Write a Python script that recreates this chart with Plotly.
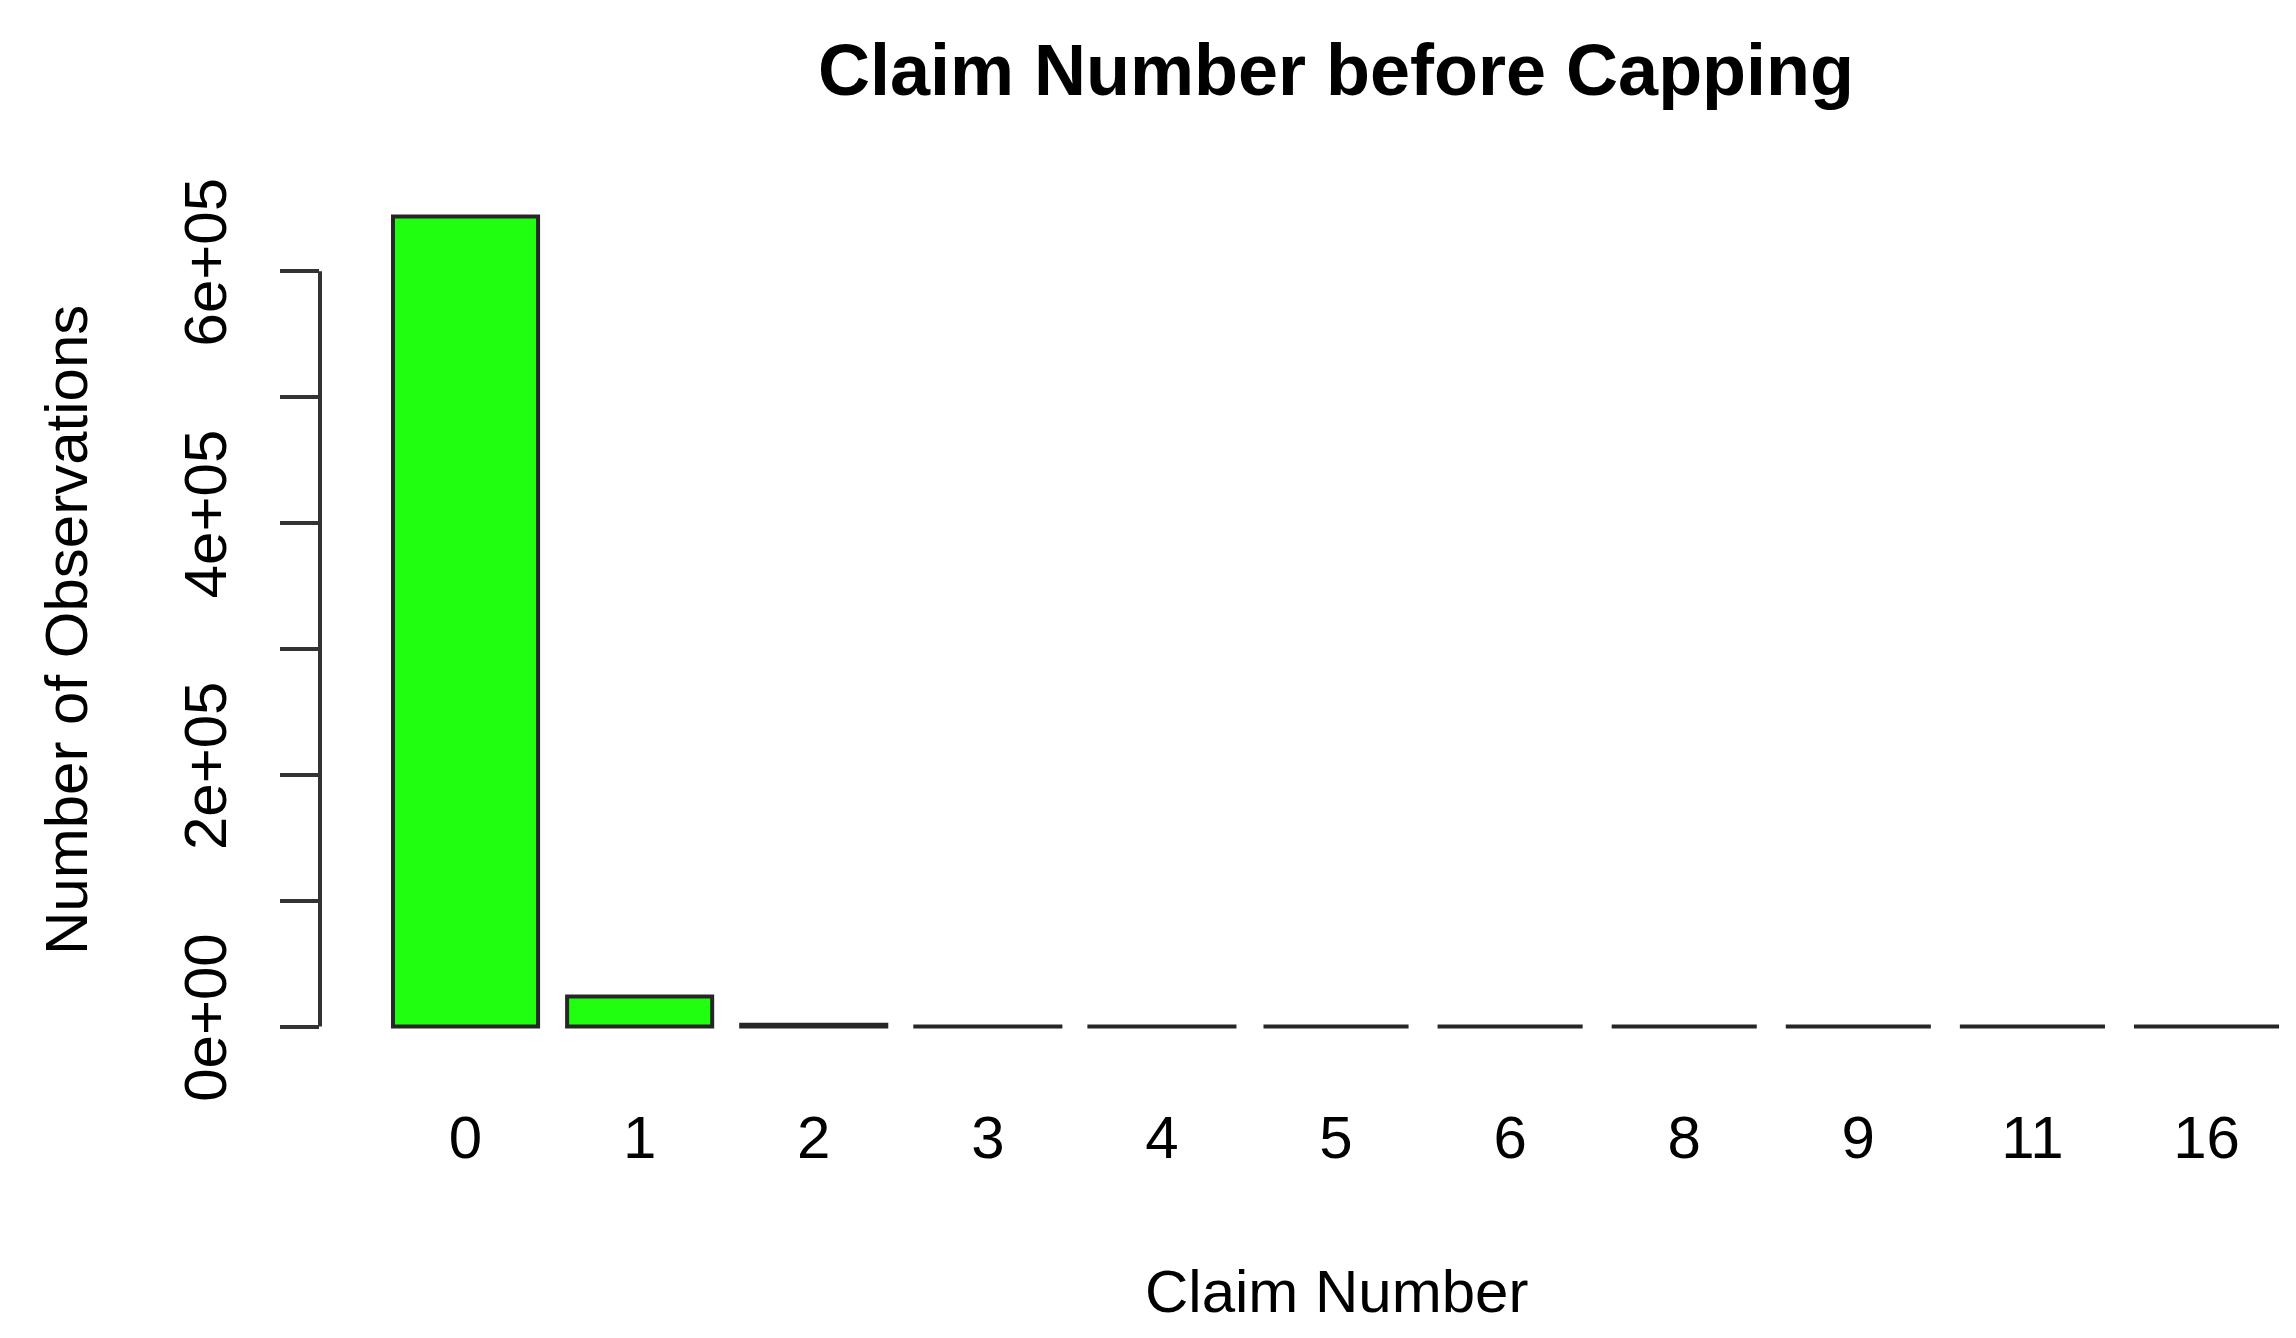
import plotly.graph_objects as go

# number of claims per policy (before capping)
claim_nb = ["0", "1", "2", "3", "4", "5", "6", "8", "9", "11", "16"]
n_obs = [643500, 24000, 1500, 82, 7, 2, 1, 1, 1, 3, 1]

y_ticks = [0, 100000, 200000, 300000, 400000, 500000, 600000]
y_labels = ["0e+00", "", "2e+05", "", "4e+05", "", "6e+05"]

W, H = 2296, 1338
L, R, T, B = 312, 0, 176, 287
FONT = "Liberation Sans, Arial, Helvetica, sans-serif"

fig = go.Figure()
fig.add_trace(go.Bar(
    x=claim_nb, y=n_obs,
    marker=dict(color="#1fff0f", line=dict(color="#262626", width=4)),
))

ymax = max(n_obs) * 1.04
fig.update_layout(
    width=W, height=H,
    margin=dict(l=L, r=R, t=T, b=B, autoexpand=False),
    paper_bgcolor="white", plot_bgcolor="white",
    showlegend=False,
    bargap=0.2 / 1.2,
    font=dict(family=FONT, size=60, color="black"),
    title=dict(text="<b>Claim Number before Capping</b>", x=1328 / W, xanchor="center",
               y=1 - 62 / H, yanchor="middle", font=dict(size=72)),
    xaxis=dict(type="category", range=[-0.836, 10.56], showline=False, ticks="",
               showgrid=False, zeroline=False, tickfont=dict(size=60),
               ticklabelstandoff=38, automargin=False),
    yaxis=dict(range=[-max(n_obs) * 0.04, ymax], tickvals=y_ticks, ticktext=y_labels,
               tickangle=-90, ticks="outside", ticklen=39, tickwidth=4, tickcolor="#333",
               showline=False, showgrid=False, zeroline=False, tickfont=dict(size=60),
               ticklabelstandoff=30, automargin=False),
)

# R style axis line: only from first to last tick
fig.add_shape(type="line", xref="paper", yref="y", x0=0, x1=0,
              y0=y_ticks[0], y1=y_ticks[-1], line=dict(color="#333", width=4))

px_w = W - L - R
fig.add_annotation(text="Claim Number", xref="paper", yref="paper",
                   x=(1328 - L) / px_w, y=-(1283 - (H - B)) / (H - T - B),
                   xanchor="center", yanchor="middle", showarrow=False,
                   font=dict(size=60))
fig.add_annotation(text="Number of Observations", xref="paper", yref="paper",
                   x=-(L - 58) / px_w, y=1 - (622 - T) / (H - T - B),
                   xanchor="center", yanchor="middle", textangle=-90, showarrow=False,
                   font=dict(size=60))

fig.write_html("out.html")
